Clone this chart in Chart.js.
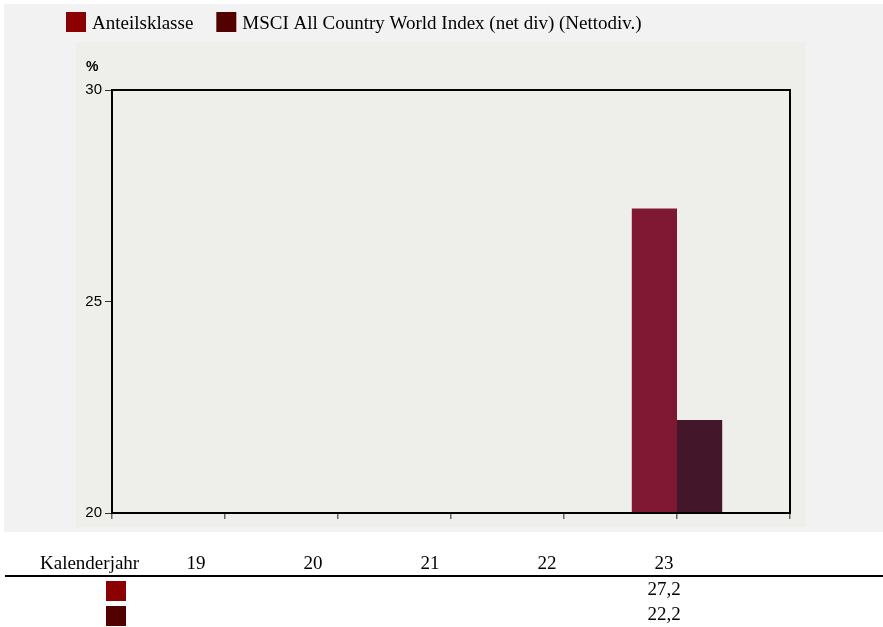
<!DOCTYPE html>
<html>
<head>
<meta charset="utf-8">
<script src="https://cdn.jsdelivr.net/npm/chart.js@4"></script>
<style>
  html, body { margin: 0; padding: 0; background: #ffffff; }
  #c { display: block; }
</style>
</head>
<body>
<canvas id="c" width="883" height="627"></canvas>
<script>
// ---- data ----
const categories = ['19', '20', '21', '22', '23'];
const fundValues = [null, null, null, null, 27.2];
const indexValues = [null, null, null, null, 22.2];
const seriesNames = ['Anteilsklasse', 'MSCI All Country World Index (net div) (Nettodiv.)'];
const yTicks = [20, 25, 30];
const rowHeader = 'Kalenderjahr';
const unitLabel = '%';

// ---- styles ----
const barColors = ['#7e1833', '#431729'];
const keyColors = ['#8b0000', '#520000'];
const serif = '"Liberation Serif", "Times New Roman", serif';
const sans = '"Liberation Sans", Arial, sans-serif';

// axis labels: blank padding slot at each end
const axisLabels = [''].concat(categories, ['']);
const pad = arr => [null].concat(arr, [null]);

const fmt = v => v.toFixed(1).replace('.', ',');

const decor = {
  id: 'decor',
  beforeDraw(chart) {
    const ctx = chart.ctx;
    ctx.save();
    ctx.fillStyle = '#ffffff';
    ctx.fillRect(0, 0, chart.width, chart.height);
    ctx.fillStyle = '#f2f2f2';
    ctx.fillRect(4, 4, chart.width - 4, 528);
    ctx.fillStyle = '#eeeeea';
    ctx.fillRect(76, 42, 730, 485);
    ctx.restore();
  },
  afterDraw(chart) {
    const ctx = chart.ctx;
    const a = chart.chartArea;
    ctx.save();
    // plot frame
    ctx.strokeStyle = '#000';
    ctx.lineWidth = 2;
    ctx.strokeRect(a.left, a.top, a.right - a.left, a.bottom - a.top);

    // unit label
    ctx.fillStyle = '#000';
    ctx.font = 'bold 14px ' + sans;
    ctx.textAlign = 'left';
    ctx.textBaseline = 'alphabetic';
    ctx.fillText(unitLabel, 86, 71);

    // legend
    ctx.font = '19px ' + serif;
    let x = 66;
    seriesNames.forEach((name, i) => {
      ctx.fillStyle = keyColors[i];
      ctx.fillRect(x, 12, 20, 20);
      ctx.fillStyle = '#000';
      ctx.fillText(name, x + 26, 29);
      x += 26 + ctx.measureText(name).width + 23;
    });

    // table below
    ctx.font = '19px ' + serif;
    ctx.fillStyle = '#000';
    ctx.textAlign = 'left';
    ctx.fillText(rowHeader, 40, 569);
    ctx.textAlign = 'center';
    const colX = i => 196 + i * 117;
    categories.forEach((c, i) => ctx.fillText(c, colX(i), 569));
    ctx.fillRect(5, 575, chart.width - 5, 2);
    const rows = [fundValues, indexValues];
    rows.forEach((vals, r) => {
      const y = 581 + r * 25;
      ctx.fillStyle = keyColors[r];
      ctx.fillRect(106, y, 20, 20);
      ctx.fillStyle = '#000';
      vals.forEach((v, i) => {
        if (v !== null) ctx.fillText(fmt(v), colX(i), y + 14);
      });
    });
    ctx.restore();
  }
};

new Chart(document.getElementById('c'), {
  type: 'bar',
  data: {
    labels: axisLabels,
    datasets: [
      { label: seriesNames[0], data: pad(fundValues), backgroundColor: barColors[0], borderWidth: 0 },
      { label: seriesNames[1], data: pad(indexValues), backgroundColor: barColors[1], borderWidth: 0 }
    ]
  },
  options: {
    responsive: false,
    animation: false,
    devicePixelRatio: 1,
    layout: { padding: { top: 90, right: 93, bottom: 114, left: 0 } },
    datasets: { bar: { categoryPercentage: 0.8, barPercentage: 1.0 } },
    plugins: { legend: { display: false }, title: { display: false }, tooltip: { enabled: false } },
    scales: {
      x: {
        type: 'category',
        offset: false,
        ticks: { display: false },
        grid: { display: true, offset: false, drawOnChartArea: false, drawTicks: true, tickLength: 6, color: '#666', lineWidth: 1.5 },
        border: { display: false },
        afterFit(s) { s.height = 0; }
      },
      y: {
        min: yTicks[0],
        max: yTicks[yTicks.length - 1],
        afterBuildTicks(s) { s.ticks = yTicks.map(v => ({ value: v })); },
        ticks: { color: '#000', font: { family: sans, size: 15 }, padding: 3 },
        grid: { display: true, drawOnChartArea: false, drawTicks: true, tickLength: 7, color: '#333', lineWidth: 1 },
        border: { display: false },
        afterFit(s) { s.width = 112; }
      }
    }
  },
  plugins: [decor]
});
</script>
</body>
</html>
